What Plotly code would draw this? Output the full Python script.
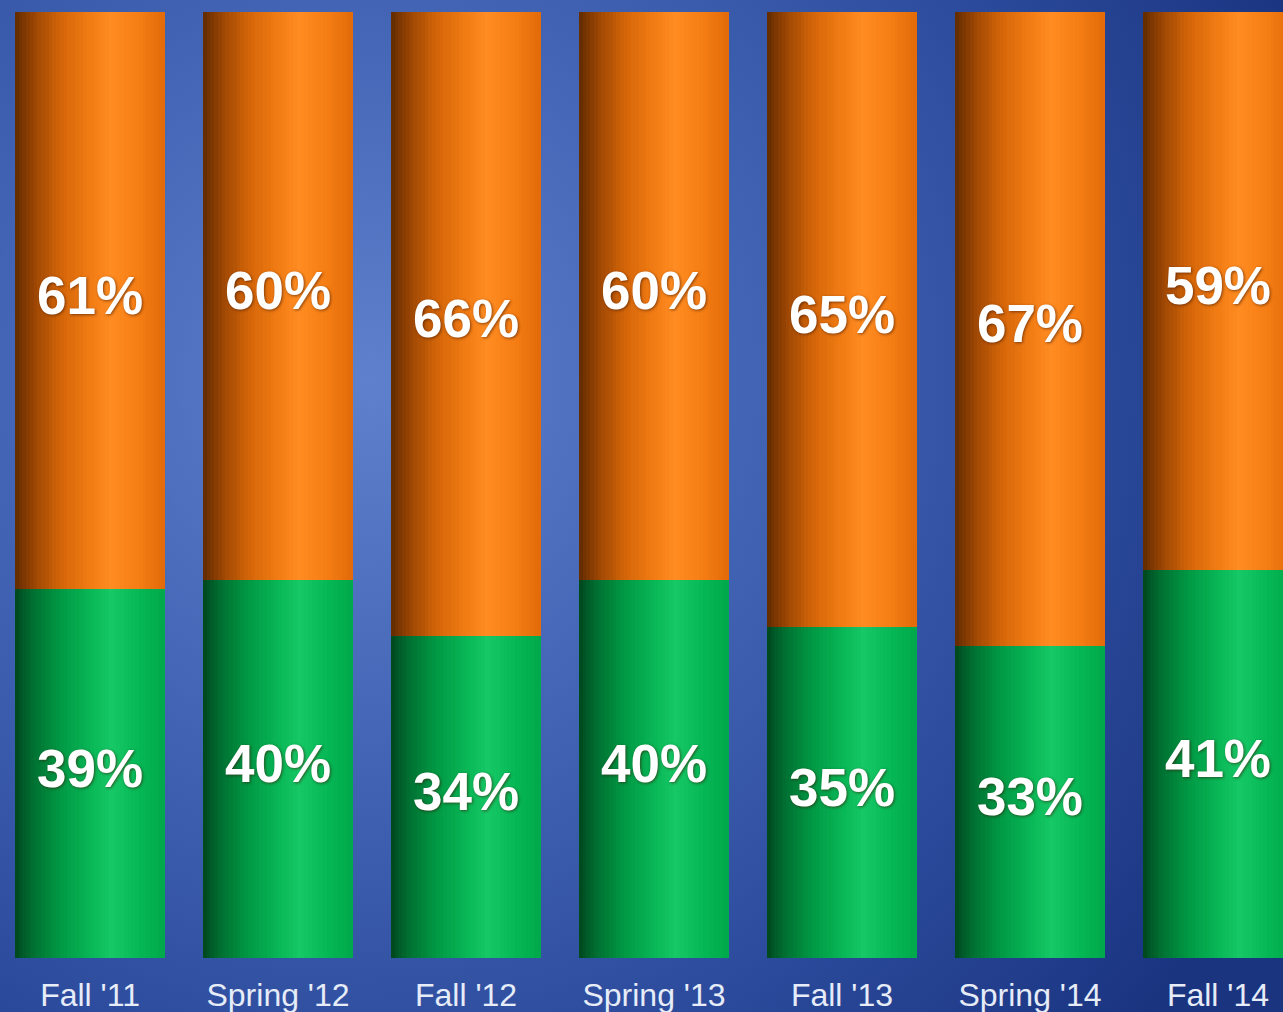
import base64
import plotly.graph_objects as go

# ---- data ----
categories = ["Fall '11", "Spring '12", "Fall '12", "Spring '13", "Fall '13", "Spring '14", "Fall '14"]
green_pct = [39, 40, 34, 40, 35, 33, 41]
orange_pct = [61, 60, 66, 60, 65, 67, 59]

# ---- style ----
BAR_W = 0.80
N_SLICES = 40
orange_stops = [(0.0, (0x60, 0x2a, 0x00)), (0.12, (0x98, 0x44, 0x04)), (0.30, (0xd2, 0x64, 0x08)),
                (0.50, (0xf2, 0x7c, 0x14)), (0.64, (0xff, 0x8c, 0x22)), (0.82, (0xf6, 0x7e, 0x14)),
                (1.0, (0xe2, 0x6a, 0x08))]
green_stops = [(0.0, (0x00, 0x46, 0x1e)), (0.12, (0x00, 0x70, 0x32)), (0.30, (0x00, 0x98, 0x44)),
               (0.50, (0x08, 0xb6, 0x56)), (0.64, (0x16, 0xc8, 0x66)), (0.82, (0x06, 0xb8, 0x56)),
               (1.0, (0x00, 0xa8, 0x4a))]


def interp(stops, t):
    for (t0, c0), (t1, c1) in zip(stops[:-1], stops[1:]):
        if t0 <= t <= t1:
            f = (t - t0) / (t1 - t0) if t1 > t0 else 0
            c = [round(a + (b - a) * f) for a, b in zip(c0, c1)]
            return "rgb(%d,%d,%d)" % tuple(c)
    return "rgb(%d,%d,%d)" % stops[-1][1]


fig = go.Figure()
sw = BAR_W / N_SLICES
for i in range(N_SLICES):
    t = (i + 0.5) / N_SLICES
    off = -BAR_W / 2 + i * sw
    w = sw * 1.15 if i < N_SLICES - 1 else sw
    fig.add_trace(go.Bar(x=categories, y=green_pct, base=[0] * len(green_pct), width=w, offset=off,
                         marker=dict(color=interp(green_stops, t), line=dict(width=0)),
                         showlegend=False, hoverinfo="skip"))
    fig.add_trace(go.Bar(x=categories, y=orange_pct, base=green_pct, width=w, offset=off,
                         marker=dict(color=interp(orange_stops, t), line=dict(width=0)),
                         showlegend=False, hoverinfo="skip"))

label_font = dict(family="Liberation Sans, Arial, sans-serif", size=53, color="white",
                  weight="bold", shadow="1px 1px 3px rgba(60,20,0,0.6)")
fig.add_trace(go.Scatter(x=categories, y=[g / 2 for g in green_pct], mode="text",
                         text=[f"{v}%" for v in green_pct], textfont=label_font,
                         textposition="middle center", cliponaxis=False, showlegend=False, hoverinfo="skip"))
fig.add_trace(go.Scatter(x=categories, y=[g + o / 2 for g, o in zip(green_pct, orange_pct)], mode="text",
                         text=[f"{v}%" for v in orange_pct], textfont=label_font,
                         textposition="middle center", cliponaxis=False, showlegend=False, hoverinfo="skip"))

W, H = 1283, 1012
TOP, BOT = 12, 54
svg = f'''<svg xmlns="http://www.w3.org/2000/svg" width="{W}" height="{H}" viewBox="0 0 {W} {H}" preserveAspectRatio="none">
<defs><radialGradient id="g" cx="370" cy="380" r="1000" gradientUnits="userSpaceOnUse">
<stop offset="0" stop-color="#5f80cc"/><stop offset="0.35" stop-color="#4566b6"/>
<stop offset="0.7" stop-color="#2c4b9c"/><stop offset="1" stop-color="#1a3480"/></radialGradient></defs>
<rect width="{W}" height="{H}" fill="url(#g)"/></svg>'''
src = "data:image/svg+xml;base64," + base64.b64encode(svg.encode()).decode()
ph = H - TOP - BOT
fig.add_layout_image(dict(source=src, xref="paper", yref="paper", x=0, y=1 + TOP / ph,
                          sizex=1, sizey=H / ph, sizing="stretch", layer="below", xanchor="left", yanchor="top"))

fig.update_layout(
    width=W, height=H, barmode="overlay", bargap=0,
    margin=dict(l=0, r=0, t=TOP, b=BOT, pad=0),
    paper_bgcolor="#2c4b9c", plot_bgcolor="rgba(0,0,0,0)",
    xaxis=dict(type="category", range=[-0.479, 6.346], showgrid=False, zeroline=False, showline=False,
               ticks="", tickfont=dict(family="Liberation Sans, Arial, sans-serif", size=32, color="#e6ecf8"),
               ticklabelstandoff=15),
    yaxis=dict(range=[0, 100], visible=False, showgrid=False, zeroline=False),
)
fig.write_html("out.html", config={"displayModeBar": False},
               post_script="document.body.style.margin='0';document.body.style.overflow='hidden';")
